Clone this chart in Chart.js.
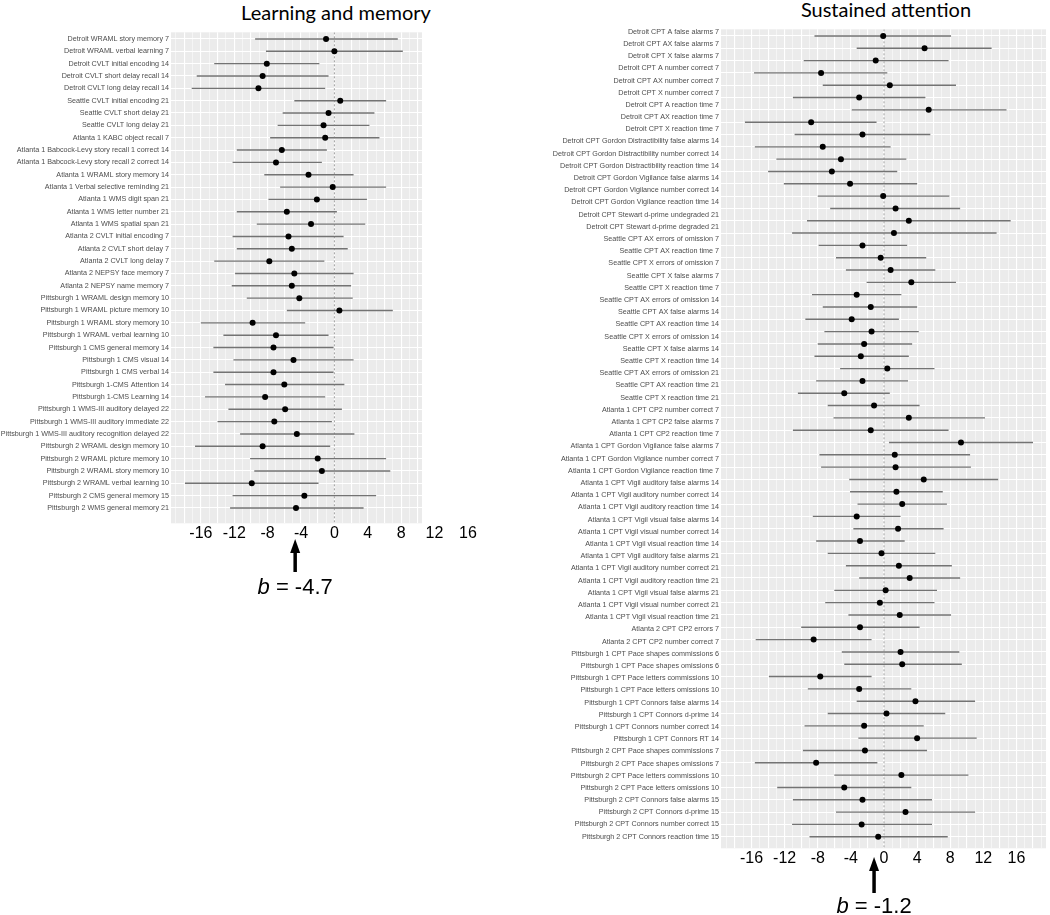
<!DOCTYPE html>
<html>
<head>
<meta charset="utf-8">
<script src="https://cdn.jsdelivr.net/npm/chart.js@4.4.1/dist/chart.umd.min.js"></script>
<style>
  body { margin: 0; background: #fff; width: 1050px; height: 915px; position: relative; overflow: hidden; }
  canvas { position: absolute; top: 0; }
  #memChart { left: 0; }
  #attnChart { left: 530px; }
  .title { position: absolute; font-family: Lato, "Open Sans", sans-serif; font-size: 20px; line-height: 1; color: #000; transform: translateX(-50%); white-space: nowrap; }
  .bnote { position: absolute; font-family: "Liberation Sans", Arial, sans-serif; font-size: 22px; line-height: 1; color: #000; transform: translateX(-50%); white-space: nowrap; }
</style>
</head>
<body>
<div class="title" style="left:336px; top:2px;">Learning and memory</div>
<div class="title" style="left:886px; top:-1px;">Sustained attention</div>
<canvas id="memChart" width="480" height="915"></canvas>
<canvas id="attnChart" width="520" height="915"></canvas>
<div class="bnote" id="memNote"><i>b</i> = -4.7</div>
<div class="bnote" id="attnNote"><i>b</i> = -1.2</div>
<script>
// x axis labels that are printed under both panels
const xTickLabels = [-16, -12, -8, -4, 0, 4, 8, 12, 16];

// ---- Learning and memory ----
const memLabels = [
  "Detroit WRAML story memory 7",
  "Detroit WRAML verbal learning 7",
  "Detroit CVLT initial encoding 14",
  "Detroit CVLT short delay recall 14",
  "Detroit CVLT long delay recall 14",
  "Seattle CVLT initial encoding 21",
  "Seattle CVLT short delay 21",
  "Seattle CVLT long delay 21",
  "Atlanta 1 KABC object recall 7",
  "Atlanta 1 Babcock-Levy story recall 1 correct 14",
  "Atlanta 1 Babcock-Levy story recall 2 correct 14",
  "Atlanta 1 WRAML story memory 14",
  "Atlanta 1 Verbal selective reminding 21",
  "Atlanta 1 WMS digit span 21",
  "Atlanta 1 WMS letter number 21",
  "Atlanta 1 WMS spatial span 21",
  "Atlanta 2 CVLT initial encoding 7",
  "Atlanta 2 CVLT short delay 7",
  "Atlanta 2 CVLT long delay 7",
  "Atlanta 2 NEPSY face memory 7",
  "Atlanta 2 NEPSY name memory 7",
  "Pittsburgh 1 WRAML design memory 10",
  "Pittsburgh 1 WRAML picture memory 10",
  "Pittsburgh 1 WRAML story memory 10",
  "Pittsburgh 1 WRAML verbal learning 10",
  "Pittsburgh 1 CMS general memory 14",
  "Pittsburgh 1 CMS visual 14",
  "Pittsburgh 1 CMS verbal 14",
  "Pittsburgh 1-CMS Attention 14",
  "Pittsburgh 1-CMS Learning 14",
  "Pittsburgh 1 WMS-III auditory delayed 22",
  "Pittsburgh 1 WMS-III auditory immediate 22",
  "Pittsburgh 1 WMS-III auditory recognition delayed 22",
  "Pittsburgh 2 WRAML design memory 10",
  "Pittsburgh 2 WRAML picture memory 10",
  "Pittsburgh 2 WRAML story memory 10",
  "Pittsburgh 2 WRAML verbal learning 10",
  "Pittsburgh 2 CMS general memory 15",
  "Pittsburgh 2 WMS general memory 21"
];
const memEst = [-1.0, 0.0, -8.1, -8.6, -9.1, 0.7, -0.7, -1.3, -1.1, -6.3, -7.0, -3.1, -0.2, -2.1, -5.7, -2.8, -5.5, -5.1, -7.8, -4.8,
  -5.1, -4.2, 0.6, -9.8, -7.0, -7.3, -4.9, -7.3, -6.0, -8.3, -5.9, -7.2, -4.5, -8.6, -2.0, -1.5, -9.9, -3.6, -4.6];
const memLo = [-9.5, -8.2, -14.4, -16.5, -17.1, -4.8, -6.2, -6.8, -7.7, -11.7, -12.2, -8.4, -6.5, -7.9, -11.7, -9.3, -12.2, -11.7, -14.4, -11.9,
  -12.3, -10.5, -5.7, -16.0, -13.3, -14.5, -12.1, -14.5, -13.1, -15.5, -12.7, -14.0, -11.3, -16.7, -10.1, -9.6, -17.9, -12.2, -12.5];
const memHi = [7.6, 8.2, -1.8, -0.7, -1.1, 6.2, 4.8, 4.2, 5.4, -0.9, -1.5, 2.3, 6.2, 3.9, 0.3, 3.7, 1.1, 1.6, -1.2, 2.3,
  2.0, 2.2, 7.0, -3.5, -0.7, -0.1, 2.3, -0.1, 1.2, -1.1, 0.9, -0.3, 2.4, -0.5, 6.2, 6.7, -1.9, 5.0, 3.5];
const memB = -4.7;

// ---- Sustained attention ----
// the source figure lists 67 labels beside 66 plotted rows, so the rows get their own axis
const attnLabels = [
  "Detroit CPT A false alarms 7",
  "Detroit CPT AX false alarms 7",
  "Detroit CPT X false alarms 7",
  "Detroit CPT A number correct 7",
  "Detroit CPT AX number correct 7",
  "Detroit CPT X number correct 7",
  "Detroit CPT A reaction time 7",
  "Detroit CPT AX reaction time 7",
  "Detroit CPT X reaction time 7",
  "Detroit CPT Gordon Distractibility false alarms 14",
  "Detroit CPT Gordon Distractibility number correct 14",
  "Detroit CPT Gordon Distractibility reaction time 14",
  "Detroit CPT Gordon Vigilance false alarms 14",
  "Detroit CPT Gordon Vigilance number correct 14",
  "Detroit CPT Gordon Vigilance reaction time 14",
  "Detroit CPT Stewart d-prime undegraded 21",
  "Detroit CPT Stewart d-prime degraded 21",
  "Seattle CPT AX errors of omission 7",
  "Seattle CPT AX reaction time 7",
  "Seattle CPT X errors of omission 7",
  "Seattle CPT X false alarms 7",
  "Seattle CPT X reaction time 7",
  "Seattle CPT AX errors of omission 14",
  "Seattle CPT AX false alarms 14",
  "Seattle CPT AX reaction time 14",
  "Seattle CPT X errors of omission 14",
  "Seattle CPT X false alarms 14",
  "Seattle CPT X reaction time 14",
  "Seattle CPT AX errors of omission 21",
  "Seattle CPT AX reaction time 21",
  "Seattle CPT X reaction time 21",
  "Atlanta 1 CPT CP2 number correct 7",
  "Atlanta 1 CPT CP2 false alarms 7",
  "Atlanta 1 CPT CP2 reaction time 7",
  "Atlanta 1 CPT Gordon Vigilance false alarms 7",
  "Atlanta 1 CPT Gordon Vigilance number correct 7",
  "Atlanta 1 CPT Gordon Vigilance reaction time 7",
  "Atlanta 1 CPT Vigil auditory false alarms 14",
  "Atlanta 1 CPT Vigil auditory number correct 14",
  "Atlanta 1 CPT Vigil auditory reaction time 14",
  "Atlanta 1 CPT Vigil visual false alarms 14",
  "Atlanta 1 CPT Vigil visual number correct 14",
  "Atlanta 1 CPT Vigil visual reaction time 14",
  "Atlanta 1 CPT Vigil auditory false alarms 21",
  "Atlanta 1 CPT Vigil auditory number correct 21",
  "Atlanta 1 CPT Vigil auditory reaction time 21",
  "Atlanta 1 CPT Vigil visual false alarms 21",
  "Atlanta 1 CPT Vigil visual number correct 21",
  "Atlanta 1 CPT Vigil visual reaction time 21",
  "Atlanta 2 CPT CP2 errors 7",
  "Atlanta 2 CPT CP2 number correct 7",
  "Pittsburgh 1 CPT Pace shapes commissions 6",
  "Pittsburgh 1 CPT Pace shapes omissions 6",
  "Pittsburgh 1 CPT Pace letters commissions 10",
  "Pittsburgh 1 CPT Pace letters omissions 10",
  "Pittsburgh 1 CPT Connors false alarms 14",
  "Pittsburgh 1 CPT Connors d-prime 14",
  "Pittsburgh 1 CPT Connors number correct 14",
  "Pittsburgh 1 CPT Connors RT 14",
  "Pittsburgh 2 CPT Pace shapes commissions 7",
  "Pittsburgh 2 CPT Pace shapes omissions 7",
  "Pittsburgh 2 CPT Pace letters commissions 10",
  "Pittsburgh 2 CPT Pace letters omissions 10",
  "Pittsburgh 2 CPT Connors false alarms 15",
  "Pittsburgh 2 CPT Connors d-prime 15",
  "Pittsburgh 2 CPT Connors number correct 15",
  "Pittsburgh 2 CPT Connors reaction time 15"
];
const attnEst = [-0.1, 4.9, -1.0, -7.6, 0.7, -3.0, 5.4, -8.8, -2.6, -7.4, -5.2, -6.3, -4.1, -0.1, 1.4, 3.0, 1.2, -2.6, -0.4, 0.8,
  3.3, -3.3, -1.6, -3.9, -1.5, -2.4, -2.8, 0.4, -2.6, -4.8, -1.2, 3.0, -1.6, 9.3, 1.3, 1.4, 4.8, 1.5, 2.2, -3.3,
  1.7, -2.9, -0.3, 1.8, 3.1, 0.2, -0.5, 1.9, -2.9, -8.5, 2.0, 2.2, -7.7, -3.0, 3.8, 0.3, -2.4, 4.0, -2.3, -8.2,
  2.1, -4.8, -2.6, 2.6, -2.7, -0.7];
const attnLo = [-8.4, -3.3, -9.7, -15.7, -7.4, -11.0, -3.9, -16.8, -10.8, -15.6, -13.0, -14.0, -12.1, -8.0, -6.5, -9.3, -11.1, -7.9, -5.8, -4.6,
  -2.1, -8.7, -7.4, -9.5, -7.2, -8.0, -8.4, -5.3, -8.2, -10.4, -6.8, -6.1, -11.0, 0.6, -7.8, -7.6, -4.2, -4.1, -3.2, -8.6,
  -3.7, -8.2, -6.8, -4.6, -3.0, -6.0, -7.1, -4.3, -10.0, -15.5, -5.1, -4.8, -13.9, -9.2, -3.3, -6.8, -9.6, -3.1, -9.8, -15.6,
  -6.0, -12.9, -11.0, -5.8, -11.1, -9.0];
const attnHi = [8.1, 13.0, 7.8, 0.4, 8.7, 5.0, 14.8, -0.9, 5.6, 0.8, 2.7, 1.6, 4.0, 7.9, 9.2, 15.3, 13.6, 2.8, 5.1, 6.2,
  8.7, 2.1, 4.0, 1.8, 4.2, 3.4, 3.0, 6.1, 2.9, 0.7, 4.3, 12.2, 7.8, 18.0, 10.4, 10.5, 13.8, 7.1, 7.6, 2.0,
  7.2, 2.5, 6.2, 8.2, 9.2, 6.4, 6.1, 8.1, 4.3, -1.5, 9.1, 9.4, -1.5, 3.3, 11.0, 7.4, 4.8, 11.2, 5.2, -0.8,
  10.2, 3.3, 5.8, 11.0, 5.8, 7.7];
const attnB = -1.2;

const labelFont = { family: '"Liberation Sans", Arial, sans-serif', size: 7.2 };

// grey ggplot-like panel behind the plot
const panelBg = {
  id: 'panelBg',
  beforeDraw(chart) {
    const { ctx, chartArea: a } = chart;
    ctx.save();
    ctx.fillStyle = '#ebebeb';
    ctx.fillRect(a.left, a.top, a.right - a.left, a.bottom - a.top);
    ctx.restore();
  }
};

// arrow pointing at the pooled estimate b
const bArrow = {
  id: 'bArrow',
  afterDraw(chart, args, opts) {
    const x = chart.scales.x.getPixelForValue(opts.value);
    const ctx = chart.ctx;
    ctx.save();
    ctx.strokeStyle = '#000';
    ctx.fillStyle = '#000';
    ctx.lineWidth = 3.5;
    ctx.beginPath();
    ctx.moveTo(x, opts.tip + 10);
    ctx.lineTo(x, opts.tail);
    ctx.stroke();
    ctx.beginPath();
    ctx.moveTo(x, opts.tip);
    ctx.lineTo(x - 5, opts.tip + 14);
    ctx.lineTo(x + 5, opts.tip + 14);
    ctx.closePath();
    ctx.fill();
    ctx.restore();
  }
};

function forestChart(canvasId, cfg) {
  const rowIdx = cfg.est.map((e, i) => i);
  const ciPoints = [];
  cfg.est.forEach((e, i) => {
    ciPoints.push({ x: cfg.lo[i], y: i }, { x: cfg.hi[i], y: i }, { x: null, y: null });
  });
  const estPoints = cfg.est.map((e, i) => ({ x: e, y: i }));

  return new Chart(document.getElementById(canvasId), {
    type: 'scatter',
    data: {
      datasets: [
        { data: estPoints, yAxisID: 'yr', pointRadius: 3, pointBackgroundColor: '#000', pointBorderWidth: 0 },
        { data: ciPoints, yAxisID: 'yr', showLine: true, spanGaps: false, pointRadius: 0, borderColor: '#737373', borderWidth: 1.4 },
        { data: [{ x: 0, y: cfg.rowMin }, { x: 0, y: cfg.rowMax }], yAxisID: 'yr', showLine: true, pointRadius: 0,
          borderColor: '#a0a0a0', borderWidth: 1, borderDash: [2, 2] }
      ]
    },
    options: {
      responsive: false,
      animation: false,
      devicePixelRatio: 1,
      events: [],
      layout: { padding: { top: cfg.top, right: cfg.padRight, left: 0, bottom: 0 } },
      plugins: { legend: { display: false }, tooltip: { enabled: false }, bArrow: cfg.arrow },
      scales: {
        x: {
          type: 'linear',
          min: cfg.xMin,
          max: cfg.xMax,
          afterBuildTicks: s => { s.ticks = cfg.xTicks.map(v => ({ value: v })); },
          afterFit: s => { s.height = cfg.xAxisHeight; },
          border: { display: false },
          grid: { color: '#fff', drawTicks: false, lineWidth: c => (c.tick && c.tick.value % 2 === 0) ? 1.1 : 0.5 },
          ticks: {
            autoSkip: false, maxRotation: 0, padding: 1, color: '#000',
            font: { family: '"Liberation Sans", Arial, sans-serif', size: 16 },
            callback: v => xTickLabels.includes(v) ? String(v) : ''
          }
        },
        y: {
          type: 'linear',
          reverse: true,
          min: cfg.labelMin,
          max: cfg.labelMax,
          afterBuildTicks: s => { s.ticks = cfg.labels.map((l, i) => ({ value: i })); },
          afterFit: s => { s.width = cfg.labelWidth; },
          border: { display: false },
          grid: { display: false, drawTicks: false },
          ticks: { autoSkip: false, padding: 2, color: '#4d4d4d', font: labelFont, callback: v => cfg.labels[v] }
        },
        yr: {
          type: 'linear',
          position: 'right',
          reverse: true,
          min: cfg.rowMin,
          max: cfg.rowMax,
          afterBuildTicks: s => { s.ticks = rowIdx.map(i => ({ value: i })); },
          afterFit: s => { s.width = 0; },
          border: { display: false },
          grid: { color: '#fff', lineWidth: 1.1, drawTicks: false },
          ticks: { display: false }
        }
      }
    },
    plugins: [panelBg, bArrow]
  });
}

// grid every unit inside the panel; the 12 and 16 labels of the left panel sit past its edge,
// so they go in the middle of the list and the first and last ticks stay inside the panel
const memGrid = [];
for (let v = -19; v <= 9; v++) memGrid.push(v);
memGrid.push(12, 16, 10);
const attnGrid = [];
for (let v = -19; v <= 19; v++) attnGrid.push(v);

const memChart = forestChart('memChart', {
  labels: memLabels, est: memEst, lo: memLo, hi: memHi,
  xMin: -19.58, xMax: 10.5, xTicks: memGrid,
  labelMin: -0.54, labelMax: 39.24, rowMin: -0.54, rowMax: 39.24,
  top: 32.3, padRight: 58, labelWidth: 171, xAxisHeight: 391.7,
  arrow: { value: memB, tip: 539, tail: 572 }
});

const attnChart = forestChart('attnChart', {
  labels: attnLabels, est: attnEst, lo: attnLo, hi: attnHi,
  xMin: -19.69, xMax: 19.57, xTicks: attnGrid,
  labelMin: -0.2, labelMax: 66.95, rowMin: -0.54, rowMax: 65.94,
  top: 29.3, padRight: 2, labelWidth: 191, xAxisHeight: 66.7,
  arrow: { value: attnB, tip: 857, tail: 893 }
});

// place the b notes under their arrows
function placeNote(id, chart, left, value, centerY) {
  const el = document.getElementById(id);
  el.style.left = (left + chart.scales.x.getPixelForValue(value)) + 'px';
  el.style.top = (centerY - 11) + 'px';
}
placeNote('memNote', memChart, 0, memB, 587);
placeNote('attnNote', attnChart, 530, attnB, 906);
</script>
</body>
</html>
